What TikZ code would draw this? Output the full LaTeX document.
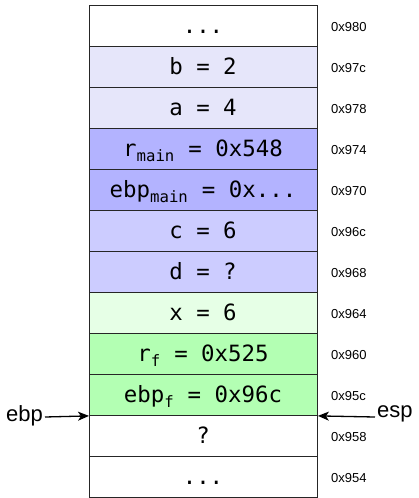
\documentclass[tikz,border=0pt]{standalone}
\usepackage{fontspec}
\usetikzlibrary{arrows.meta}
\setmonofont{DejaVu Sans Mono}
\setsansfont{Liberation Sans}
\definecolor{cLav}{HTML}{E6E6FA}
\definecolor{cMid}{HTML}{CCCCFF}
\definecolor{cDark}{HTML}{B3B3FF}
\definecolor{cGl}{HTML}{E6FFE6}
\definecolor{cGd}{HTML}{B3FFB3}
\begin{document}
\begin{tikzpicture}[x=1pt,y=-1pt,
  cell/.style={draw=black!85, line width=0.9pt, minimum width=228pt, minimum height=41pt, inner sep=0pt, anchor=north west},
  val/.style={font=\fontsize{22.4}{22.4}\selectfont\ttfamily, anchor=base, inner sep=0pt},
  addr/.style={font=\fontsize{13}{13}\selectfont\sffamily, anchor=west, inner sep=0pt},
  reg/.style={font=\fontsize{22}{22}\selectfont\sffamily, inner sep=0pt},
  ptr/.style={-{Stealth[length=11pt,width=9pt,inset=3pt]}, line width=1.3pt}]
\useasboundingbox (0,0) rectangle (419,498);
\foreach \i/\c/\t/\a in {0/white/{...}/0x980, 1/cLav/{b = 2}/0x97c, 2/cLav/{a = 4}/0x978,
  3/cDark/{r\textsubscript{main} = 0x548}/0x974, 4/cDark/{ebp\textsubscript{main} = 0x...}/0x970,
  5/cMid/{c = 6}/0x96c, 6/cMid/{d = ?}/0x968, 7/cGl/{x = 6}/0x964,
  8/cGd/{r\textsubscript{f} = 0x525}/0x960, 9/cGd/{ebp\textsubscript{f} = 0x96c}/0x95c,
  10/white/{?}/0x958, 11/white/{...}/0x954} {
  \node[cell, fill=\c] (c\i) at (89, 5+41*\i) {};
  \node[val] (v\i) at (203, 33.5+41*\i) {\t};
  \node[addr] (a\i) at (331, 27.5+41*\i) {\a};
}
\coordinate (ebpAt) at (c9.south west);
\coordinate (espAt) at (c9.south east);
\node[reg, anchor=east] (ebp) at (43, 416) {ebp};
\node[reg, anchor=west] (esp) at (377, 414) {esp};
\coordinate (ebpFrom) at (45,417);
\coordinate (espFrom) at (375,417);
\draw[ptr] (ebpFrom) -- (ebpAt);
\draw[ptr] (espFrom) -- (espAt);
\end{tikzpicture}
\end{document}
